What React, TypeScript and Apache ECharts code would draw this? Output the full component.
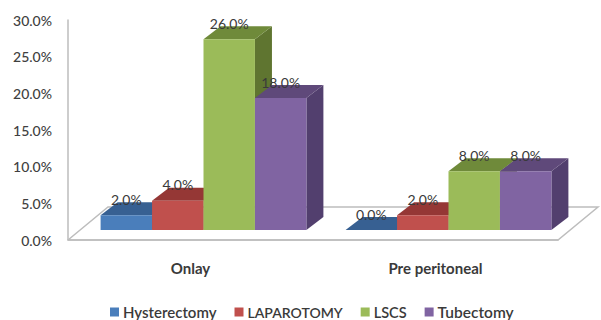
import React, { useEffect, useRef } from "react";
import * as echarts from "echarts";

const categories = ["Onlay", "Pre peritoneal"];
const seriesNames = ["Hysterectomy", "LAPAROTOMY", "LSCS", "Tubectomy"];
const legendFontSizes = [15, 14, 14.5, 15.5];
const hysterectomy = [2, 0];
const laparotomy = [4, 2];
const lscs = [26, 8];
const tubectomy = [18, 8];
const valueSets = [hysterectomy, laparotomy, lscs, tubectomy];

const frontColors = ["#4a7ebb", "#c0504d", "#9bbb59", "#8064a2"];
const topColors = ["#376092", "#953735", "#6f8a3a", "#5f497a"];
const sideColors = ["#2f5380", "#7f2f2d", "#5f7530", "#523f6e"];

const FONT = "Lato, 'Noto Sans', sans-serif";
const DEPTH_X = 17;
const DEPTH_Y = -13;
const FLOOR_LIFT = 10;
const BAR_SHIFT = 13;
const BAR_SHARE = 0.21;

// One box of the 3D column: front face, top face and right-hand side face.
const renderBox = (seriesPos: number) => (_params: any, api: any) => {
  const cat = api.value(0);
  const value = api.value(1);
  const [cx, yBase] = api.coord([cat, 0]);
  const [, yTop] = api.coord([cat, value]);
  const band = api.size([1, 0])[0];
  const w = band * BAR_SHARE;
  const x0 = cx + BAR_SHIFT + (seriesPos - 2) * w;
  const x1 = x0 + w;
  const base = yBase - FLOOR_LIFT;
  const top = yTop - FLOOR_LIFT;
  const poly = (points: number[][], fill: string) => ({
    type: "polygon",
    shape: { points },
    style: { fill, stroke: "none" },
  });
  return {
    type: "group",
    children: [
      poly(
        [
          [x1, base],
          [x1 + DEPTH_X, base + DEPTH_Y],
          [x1 + DEPTH_X, top + DEPTH_Y],
          [x1, top],
        ],
        sideColors[seriesPos]
      ),
      poly(
        [
          [x0, top],
          [x0 + DEPTH_X, top + DEPTH_Y],
          [x1 + DEPTH_X, top + DEPTH_Y],
          [x1, top],
        ],
        topColors[seriesPos]
      ),
      ...(value > 0
        ? [poly([[x0, base], [x1, base], [x1, top], [x0, top]], frontColors[seriesPos])]
        : []),
      {
        type: "text",
        z2: 50,
        style: {
          text: value.toFixed(1) + "%",
          x: (x0 + x1) / 2,
          y: top - 16,
          align: "center",
          verticalAlign: "middle",
          font: `14px ${FONT}`,
          fill: "#3a3a3a",
        },
      },
    ],
  };
};

// Floor of the plot: a slanted outline running back from the category axis.
const renderFloor = (_params: any, api: any) => {
  const [xl, yb] = api.coord([0, 0]);
  const band = api.size([1, 0])[0];
  const left = xl - band / 2;
  const right = left + band * categories.length;
  return {
    type: "polyline",
    shape: {
      points: [
        [left, yb],
        [left + 40, yb - 33],
        [right + 40, yb - 33],
        [right, yb],
        [left, yb],
      ],
    },
    style: { fill: "none", stroke: "#bdbdbd", lineWidth: 1.5 },
  };
};

export default function App() {
  const ref = useRef<HTMLDivElement>(null);
  useEffect(() => {
    const chart = echarts.init(ref.current!, undefined, { renderer: "svg" });
    chart.setOption({
      animation: false,
      backgroundColor: "#ffffff",
      grid: { left: 68, right: 43, top: 20, bottom: 80 },
      legend: {
        data: seriesNames.map((name, i) => ({
          name,
          textStyle: { fontSize: legendFontSizes[i] },
        })),
        left: 110,
        top: 304,
        itemWidth: 9,
        itemHeight: 9,
        itemGap: 18,
        icon: "rect",
        padding: 0,
        textStyle: {
          fontFamily: FONT,
          fontWeight: 600,
          color: "#3a3a3a",
          padding: [0, 0, 0, -1],
        },
      },
      xAxis: {
        type: "category",
        data: categories,
        axisTick: { show: false },
        axisLine: { lineStyle: { color: "#bdbdbd", width: 1.5 } },
        axisLabel: {
          fontFamily: FONT,
          fontSize: 15,
          fontWeight: 700,
          color: "#3a3a3a",
          margin: 20,
        },
      },
      yAxis: {
        type: "value",
        min: 0,
        max: 30,
        interval: 5,
        splitLine: { show: false },
        axisTick: { show: false },
        axisLine: { show: true, lineStyle: { color: "#bdbdbd", width: 1.5 } },
        axisLabel: {
          fontFamily: FONT,
          fontSize: 14,
          fontWeight: 500,
          color: "#404040",
          margin: 16,
          formatter: (v: number) => v.toFixed(1) + "%",
        },
      },
      series: [
        {
          name: "floor",
          type: "custom",
          renderItem: renderFloor,
          clip: false,
          silent: true,
          data: [[0, 0]],
          encode: { x: 0, y: 1 },
          z: 1,
        },
        ...seriesNames.map((name, i) => ({
          name,
          type: "custom",
          renderItem: renderBox(i),
          clip: false,
          itemStyle: { color: frontColors[i] },
          data: valueSets[i].map((v, c) => [c, v]),
          encode: { x: 0, y: 1 },
          z: 2 + i,
        })),
      ],
    });
    return () => chart.dispose();
  }, []);
  return (
    <div
      ref={ref}
      style={{ position: "fixed", left: 0, top: 0, width: 601, height: 320 }}
    />
  );
}
